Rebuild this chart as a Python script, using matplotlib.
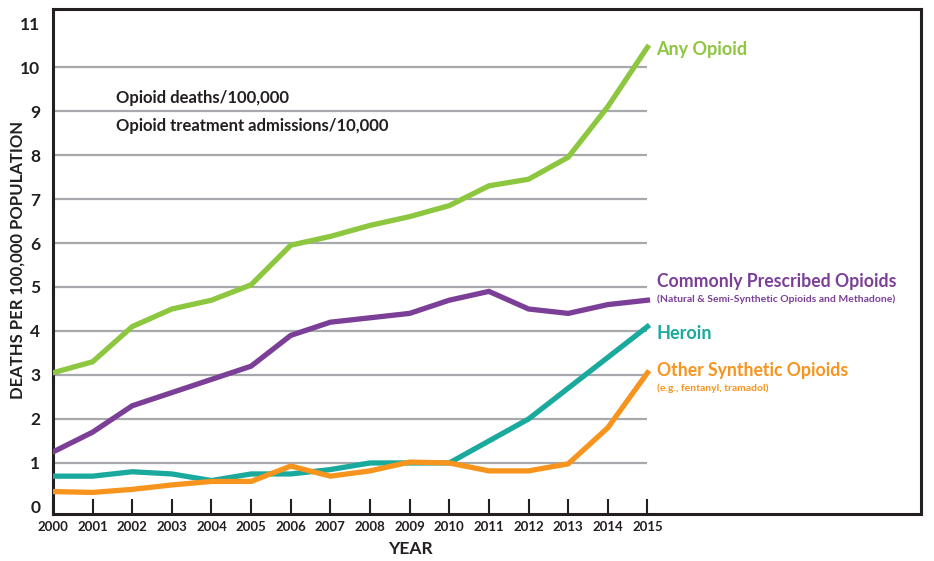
import matplotlib
matplotlib.use('Agg')
from matplotlib import pyplot as plt

## Data
years = list(range(2000, 2016))
any_opioid = [3.05, 3.3, 4.1, 4.5, 4.7, 5.05, 5.95, 6.15, 6.4, 6.6, 6.85, 7.3, 7.45, 7.95, 9.1, 10.45]
prescribed = [1.25, 1.7, 2.3, 2.6, 2.9, 3.2, 3.9, 4.2, 4.3, 4.4, 4.7, 4.9, 4.5, 4.4, 4.6, 4.7]
heroin = [0.7, 0.7, 0.8, 0.75, 0.6, 0.75, 0.75, 0.85, 1.0, 1.0, 1.0, 1.5, 2.0, 2.7, 3.4, 4.1]
synthetic = [0.35, 0.33, 0.4, 0.5, 0.58, 0.58, 0.93, 0.7, 0.82, 1.02, 1.0, 0.82, 0.82, 0.98, 1.8, 3.05]
yticks = list(range(0, 12))

GREEN = '#8dc63f'
PURPLE = '#7b3f98'
TEAL = '#1aa99d'
ORANGE = '#f7941d'
DARK = '#231f20'

plt.rcParams['font.family'] = ['Lato', 'DejaVu Sans']
plt.rcParams['font.weight'] = 'bold'

fig = plt.figure(figsize=(9.34, 5.61), dpi=100)
ax = fig.add_axes([0.0567, 0.0838, 0.9293, 0.9002])

# grid lines only span the data years
for y in range(1, 11):
	ax.plot([2000, 2015], [y, y], color='#a7a9ac', lw=1.6, zorder=1, solid_capstyle='butt')

series = [(any_opioid, GREEN), (prescribed, PURPLE), (heroin, TEAL), (synthetic, ORANGE)]
for vals, col in series:
	ax.plot(years, vals, color=col, lw=3.8, zorder=3, solid_joinstyle='miter')

ax.set_xlim(2000, 2021.9)
ax.set_ylim(-0.16, 11.32)
ax.set_xticks(years)
ax.set_xticklabels([str(y) for y in years], fontsize=9.5, fontweight='bold', color=DARK)
ax.set_yticks(yticks)
ax.set_yticklabels([str(y) for y in yticks], fontsize=12.5, fontweight='bold', color=DARK)
ax.tick_params(axis='x', direction='in', length=11, width=1.5, color=DARK, pad=5)
ax.tick_params(axis='y', length=0, pad=9)
for s in ax.spines.values():
	s.set_linewidth(2.2)
	s.set_color(DARK)

# axis titles placed by hand so they stay inside the figure
fig.text(18 / 934, 1 - 260 / 561, 'DEATHS PER 100,000 POPULATION', fontsize=12, fontweight='bold',
	color=DARK, rotation=90, ha='center', va='center')
fig.text(410 / 934, 1 - 549 / 561, 'YEAR', fontsize=12.5, fontweight='bold', color=DARK,
	ha='center', va='center')

ax.text(2001.6, 9.3, 'Opioid deaths/100,000', fontsize=12, color=DARK, va='center')
ax.text(2001.6, 8.65, 'Opioid treatment admissions/10,000', fontsize=12, color=DARK, va='center')

lx = 2015.23
ax.text(lx, 10.4, 'Any Opioid', fontsize=13, color=GREEN, va='center')
ax.text(lx, 5.12, 'Commonly Prescribed Opioids', fontsize=12.7, color=PURPLE, va='center')
ax.text(lx, 4.72, '(Natural & Semi-Synthetic Opioids and Methadone)', fontsize=7.5, color=PURPLE, va='center')
ax.text(lx, 3.95, 'Heroin', fontsize=13, color=TEAL, va='center')
ax.text(lx, 3.1, 'Other Synthetic Opioids', fontsize=12.7, color=ORANGE, va='center')
ax.text(lx, 2.7, '(e.g., fentanyl, tramadol)', fontsize=7.5, color=ORANGE, va='center')

fig.savefig('out.png', dpi=100)
